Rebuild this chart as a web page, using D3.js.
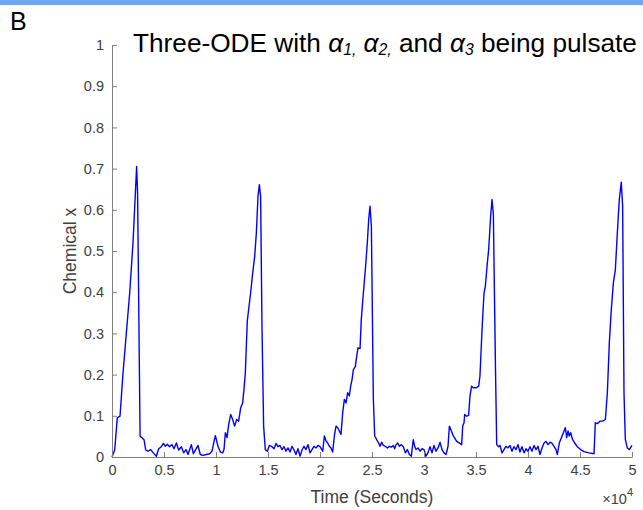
<!DOCTYPE html>
<html><head><meta charset="utf-8">
<script src="https://cdn.jsdelivr.net/npm/d3@7"></script>
<style>body{margin:0;background:#fff} svg{display:block}</style>
</head><body>
<svg id="c" width="643" height="510"></svg>
<script>
// Time in units of 10^4 seconds, chemical x concentration
const cycle1 = [[0,0],[0.026,0.017],[0.051,0.095],[0.077,0.099],[0.106,0.204],[0.138,0.301],[0.170,0.398],[0.202,0.520],[0.237,0.705],[0.246,0.640],[0.270,0.050],[0.288,0.047],[0.308,0.042],[0.324,0.017],[0.346,0.014],[0.372,0.018],[0.397,0.010],[0.426,0.002],[0.449,0.020],[0.474,0.025],[0.494,0.033],[0.513,0.026],[0.532,0.031],[0.554,0.025],[0.577,0.030],[0.596,0.020],[0.619,0.034],[0.641,0.017],[0.667,0.025],[0.689,0.010],[0.712,0.018],[0.731,0.006],[0.747,0.018],[0.763,0.030],[0.782,0.008],[0.804,0.018],[0.827,0.028],[0.849,0.006],[0.875,0.004],[0.907,0.006],[0.939,0.008],[0.962,0.014],[0.981,0.038],[0.994,0.052]];
const cycle2 = [[1.019,0.026],[1.042,0.012],[1.064,0.010],[1.077,0.018],[1.090,0.059],[1.106,0.047],[1.122,0.079],[1.141,0.103],[1.160,0.091],[1.179,0.075],[1.199,0.091],[1.218,0.087],[1.237,0.119],[1.256,0.131],[1.269,0.164],[1.282,0.204],[1.301,0.330],[1.314,0.358],[1.333,0.398],[1.353,0.447],[1.372,0.487],[1.388,0.544],[1.404,0.633],[1.417,0.661],[1.429,0.633],[1.442,0.318],[1.458,0.075],[1.474,0.018],[1.494,0.014],[1.513,0.028],[1.538,0.025],[1.558,0.020],[1.577,0.033],[1.596,0.025],[1.615,0.028],[1.635,0.018],[1.654,0.025],[1.673,0.014],[1.692,0.022],[1.712,0.012],[1.731,0.026],[1.750,0.017],[1.769,0.006],[1.788,0.020],[1.808,0.002],[1.827,0.017],[1.846,0.026],[1.865,0.018],[1.885,0.030],[1.904,0.010],[1.923,0.018],[1.942,0.026],[1.962,0.022],[1.981,0.028],[2.000,0.025]];
const cycle3 = [[2.026,0.014],[2.042,0.051],[2.058,0.039],[2.074,0.034],[2.090,0.026],[2.106,0.022],[2.122,0.012],[2.138,0.051],[2.154,0.075],[2.170,0.071],[2.186,0.063],[2.202,0.055],[2.218,0.107],[2.234,0.140],[2.250,0.131],[2.266,0.156],[2.282,0.148],[2.295,0.172],[2.308,0.188],[2.321,0.212],[2.340,0.220],[2.353,0.245],[2.365,0.265],[2.385,0.263],[2.397,0.334],[2.417,0.398],[2.436,0.455],[2.455,0.520],[2.468,0.576],[2.481,0.609],[2.494,0.560],[2.513,0.140],[2.526,0.051],[2.545,0.042],[2.564,0.034],[2.577,0.026],[2.593,0.036],[2.609,0.028],[2.628,0.026],[2.647,0.022],[2.667,0.026],[2.686,0.024],[2.705,0.028],[2.718,0.020],[2.731,0.030],[2.747,0.034],[2.763,0.026],[2.782,0.030],[2.801,0.025],[2.821,0.010],[2.840,0.018],[2.859,0.006],[2.878,0.002],[2.897,0.042],[2.910,0.026],[2.923,0.018],[2.942,0.022],[2.962,0.014],[2.981,0.020],[3.000,0.018]];
const cycle4 = [[3.019,0.002],[3.038,0.010],[3.058,0.025],[3.077,0.010],[3.096,0.028],[3.115,0.014],[3.135,0.022],[3.154,0.036],[3.173,0.018],[3.192,0.010],[3.212,0.006],[3.231,0.026],[3.244,0.075],[3.263,0.063],[3.282,0.051],[3.314,0.038],[3.346,0.033],[3.362,0.030],[3.372,0.075],[3.385,0.083],[3.391,0.103],[3.410,0.099],[3.429,0.101],[3.442,0.148],[3.458,0.172],[3.474,0.168],[3.500,0.168],[3.526,0.172],[3.538,0.196],[3.558,0.309],[3.577,0.398],[3.590,0.415],[3.609,0.471],[3.622,0.504],[3.641,0.585],[3.654,0.625],[3.667,0.589],[3.686,0.237],[3.699,0.030],[3.718,0.025],[3.731,0.028],[3.750,0.010],[3.769,0.018],[3.788,0.026],[3.808,0.022],[3.827,0.028],[3.846,0.014],[3.865,0.025],[3.885,0.018],[3.904,0.030],[3.923,0.012],[3.942,0.025],[3.962,0.010],[3.981,0.020],[4.000,0.014]];
const cycle5 = [[4.019,0.025],[4.038,0.014],[4.058,0.028],[4.077,0.018],[4.096,0.026],[4.115,0.006],[4.135,0.022],[4.154,0.034],[4.173,0.038],[4.192,0.030],[4.212,0.036],[4.231,0.033],[4.250,0.026],[4.269,0.018],[4.282,0.006],[4.301,0.034],[4.321,0.047],[4.340,0.059],[4.359,0.071],[4.372,0.047],[4.385,0.063],[4.397,0.051],[4.410,0.059],[4.429,0.042],[4.449,0.034],[4.474,0.025],[4.506,0.018],[4.538,0.013],[4.587,0.010],[4.635,0.008],[4.647,0.083],[4.667,0.081],[4.692,0.087],[4.718,0.087],[4.744,0.091],[4.763,0.156],[4.782,0.277],[4.801,0.358],[4.821,0.423],[4.840,0.455],[4.859,0.544],[4.878,0.625],[4.897,0.667],[4.910,0.609],[4.923,0.156],[4.936,0.042],[4.955,0.022],[4.974,0.018],[4.994,0.026],[5.000,0.028]];

const xTicks = [0,0.5,1,1.5,2,2.5,3,3.5,4,4.5,5];
const xTickLabels = ["0","0.5","1","1.5","2","2.5","3","3.5","4","4.5","5"];
const yTicks = [0,0.1,0.2,0.3,0.4,0.5,0.6,0.7,0.8,0.9,1];
const yTickLabels = ["0","0.1","0.2","0.3","0.4","0.5","0.6","0.7","0.8","0.9","1"];

const FONT = "'Liberation Sans', Arial, Helvetica, sans-serif";
const svg = d3.select("#c");

// top panel band
svg.append("rect").attr("x",0).attr("y",0).attr("width",643).attr("height",5).attr("fill","#6fa7f1");

const x = d3.scaleLinear().domain([0,5]).range([112,632]);
const y = d3.scaleLinear().domain([0,1]).range([457,45]);

const data = [].concat(cycle1, cycle2, cycle3, cycle4, cycle5);

const line = d3.line().x(d=>x(d[0])).y(d=>y(d[1]));
svg.append("path").datum(data).attr("d",line)
  .attr("fill","none").attr("stroke","#0000ff").attr("stroke-width",1.4).attr("stroke-linejoin","round");

const gx = svg.append("g").attr("transform",`translate(0,${y(0)})`)
  .call(d3.axisBottom(x).tickValues(xTicks).tickFormat((d,i)=>xTickLabels[i]).tickSizeInner(-5).tickSizeOuter(0).tickPadding(8));
const gy = svg.append("g").attr("transform",`translate(${x(0)},0)`)
  .call(d3.axisLeft(y).tickValues(yTicks).tickFormat((d,i)=>yTickLabels[i]).tickSizeInner(-5).tickSizeOuter(0).tickPadding(8));
[gx,gy].forEach(g=>{
  g.selectAll("path.domain, line").attr("stroke","#808080");
  g.selectAll("text").attr("fill","#404040").style("font-family",FONT).style("font-size","14.5px");
});

// axis labels
svg.append("text").attr("x",372).attr("y",503).attr("text-anchor","middle")
  .style("font-family",FONT).style("font-size","17.5px").attr("fill","#404040").text("Time (Seconds)");
svg.append("text").attr("transform","translate(76,251) rotate(-90)").attr("text-anchor","middle")
  .style("font-family",FONT).style("font-size","17.5px").attr("fill","#404040").text("Chemical x");

// exponent
const ex = svg.append("text").attr("x",633).attr("y",504).attr("text-anchor","end")
  .style("font-family",FONT).style("font-size","14.5px").attr("fill","#404040");
ex.append("tspan").text("\u00d710");
ex.append("tspan").attr("dy",-8).style("font-size","11px").text("4");

// panel letter
svg.append("text").attr("x",10).attr("y",30).style("font-family",FONT).style("font-size","25px").attr("fill","#000").text("B");

// title
const titleParts = [
  {t:"Three-ODE with "},
  {t:"\u03b1", it:true},{t:"1,", sub:true},{t:" "},
  {t:"\u03b1", it:true},{t:"2,", sub:true},{t:" and "},
  {t:"\u03b1", it:true},{t:"3", sub:true},{t:" being pulsate"}
];
const title = svg.append("text").attr("x",133).attr("y",52).style("font-family",FONT).attr("fill","#000");
function drawTitle(fs){
  title.selectAll("tspan").remove();
  let shifted=false;
  titleParts.forEach(p=>{
    const ts = title.append("tspan").text(p.t);
    if(p.it) ts.style("font-style","italic");
    if(p.sub){ ts.style("font-style","italic").style("font-size",(fs*0.6)+"px").attr("dy",fs*0.12); shifted=true; }
    else { ts.style("font-size",fs+"px"); if(shifted){ ts.attr("dy",-fs*0.12); shifted=false; } }
  });
}
drawTitle(22);
const len = title.node().getComputedTextLength();
drawTitle(22*504/len);
</script>
</body></html>
